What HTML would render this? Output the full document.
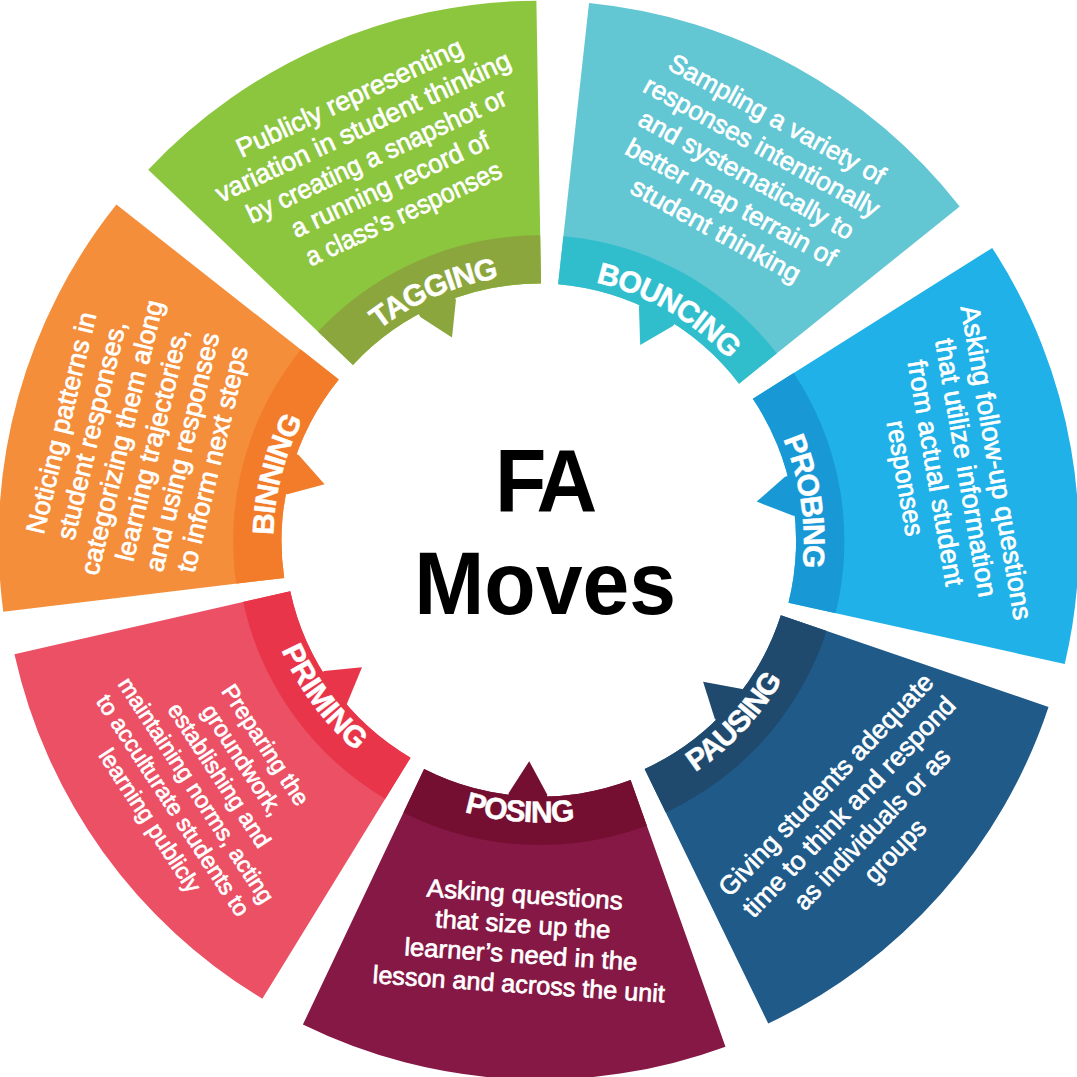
<!DOCTYPE html>
<html><head><meta charset="utf-8"><style>
html,body{margin:0;padding:0;background:#fff;}
svg{display:block;}
.d text{font-family:"Liberation Sans",sans-serif;fill:#fff;text-anchor:middle;font-weight:400;stroke:#fff;stroke-width:0.7px;}
.l{font-family:"Liberation Sans",sans-serif;fill:#fff;text-anchor:middle;font-weight:700;stroke:#fff;stroke-width:0.5px;}
.big{font-family:"Liberation Sans",sans-serif;font-weight:700;text-anchor:middle;fill:#000;}
</style></head><body>
<svg width="1077" height="1077" viewBox="0 0 1077 1077">
<defs><clipPath id="c0"><path d="M148.25,169.63 A538.28,538.28 0 0 1 536.40,0.68 L541.00,283.58 A255.37,255.37 0 0 0 352.94,364.94 Z"/></clipPath><path id="lp0" d="M282.93,599.68 A264,264 0 0 1 760.50,394.01"/><clipPath id="c1"><path d="M589.02,3.01 A538.28,538.28 0 0 1 959.71,206.54 L739.03,383.63 A255.37,255.37 0 0 0 558.12,284.26 Z"/></clipPath><path id="lp1" d="M334.65,369.63 A263,263 0 0 1 783.26,628.63"/><clipPath id="c2"><path d="M992.22,247.89 A538.28,538.28 0 0 1 1064.75,663.94 L788.48,602.79 A255.37,255.37 0 0 0 752.84,398.77 Z"/></clipPath><path id="lp2" d="M547.14,278.03 A263,263 0 0 1 624.60,790.21"/><clipPath id="c3"><path d="M1048.53,706.98 A538.28,538.28 0 0 1 768.23,1023.53 L644.64,769.02 A255.37,255.37 0 0 0 780.84,615.35 Z"/></clipPath><path id="lp3" d="M382.39,773.62 A283,283 0 0 0 764.66,367.96"/><clipPath id="c4"><path d="M725.47,1046.66 A538.28,538.28 0 0 1 302.89,1024.62 L424.13,768.95 A255.37,255.37 0 0 0 630.60,780.10 Z"/></clipPath><path id="lp4" d="M260.33,569.02 A281,281 0 0 0 812.19,611.00"/><clipPath id="c5"><path d="M262.35,998.72 A538.28,538.28 0 0 1 14.45,654.21 L290.27,591.21 A255.37,255.37 0 0 0 410.54,757.70 Z"/></clipPath><path id="lp5" d="M335.75,343.02 A282,282 0 0 0 665.27,790.14"/><clipPath id="c6"><path d="M3.28,611.84 A538.28,538.28 0 0 1 116.40,204.62 L338.82,379.49 A255.37,255.37 0 0 0 284.20,577.96 Z"/></clipPath><path id="lp6" d="M428.83,781.08 A263.5,263.5 0 0 1 556.14,277.95"/></defs>
<path d="M148.25,169.63 A538.28,538.28 0 0 1 536.40,0.68 L541.00,283.58 A255.37,255.37 0 0 0 352.94,364.94 Z" fill="#8CC63F"/>
<circle cx="539.85" cy="538.95" r="303.67" fill="#8BA63C" clip-path="url(#c0)"/>
<polygon points="420.33,316.91 452.00,337.60 455.91,300.01 453.22,292.36 415.96,308.80" fill="#8BA63C"/>
<path d="M589.02,3.01 A538.28,538.28 0 0 1 959.71,206.54 L739.03,383.63 A255.37,255.37 0 0 0 558.12,284.26 Z" fill="#62C6D3"/>
<circle cx="536.12" cy="538.68" r="303.67" fill="#30BECD" clip-path="url(#c1)"/>
<polygon points="638.93,306.60 640.20,344.90 673.33,325.70 677.67,318.96 641.99,299.71" fill="#30BECD"/>
<path d="M992.22,247.89 A538.28,538.28 0 0 1 1064.75,663.94 L788.48,602.79 A255.37,255.37 0 0 0 752.84,398.77 Z" fill="#1FB1E7"/>
<circle cx="540.71" cy="540.95" r="303.67" fill="#1998D6" clip-path="url(#c2)"/>
<polygon points="785.00,476.78 756.70,501.60 793.17,515.72 800.78,514.96 793.50,474.55" fill="#1998D6"/>
<path d="M1048.53,706.98 A538.28,538.28 0 0 1 768.23,1023.53 L644.64,769.02 A255.37,255.37 0 0 0 780.84,615.35 Z" fill="#1F5A89"/>
<circle cx="537.76" cy="537.09" r="303.67" fill="#1F4A6E" clip-path="url(#c3)"/>
<polygon points="742.17,689.07 703.10,681.70 714.80,718.81 720.15,724.30 747.51,693.04" fill="#1F4A6E"/>
<path d="M725.47,1046.66 A538.28,538.28 0 0 1 302.89,1024.62 L424.13,768.95 A255.37,255.37 0 0 0 630.60,780.10 Z" fill="#851845"/>
<circle cx="539.96" cy="541.36" r="303.67" fill="#740F31" clip-path="url(#c4)"/>
<polygon points="547.05,794.36 529.20,761.20 508.71,792.88 507.74,800.74 547.28,802.63" fill="#740F31"/>
<path d="M262.35,998.72 A538.28,538.28 0 0 1 14.45,654.21 L290.27,591.21 A255.37,255.37 0 0 0 410.54,757.70 Z" fill="#EB5064"/>
<circle cx="539.93" cy="537.53" r="303.67" fill="#E8354A" clip-path="url(#c5)"/>
<polygon points="347.14,703.25 362.00,667.30 324.21,671.10 317.71,675.13 341.72,707.90" fill="#E8354A"/>
<path d="M3.28,611.84 A538.28,538.28 0 0 1 116.40,204.62 L338.82,379.49 A255.37,255.37 0 0 0 284.20,577.96 Z" fill="#F48E3B"/>
<circle cx="536.84" cy="540.74" r="303.67" fill="#F27C2A" clip-path="url(#c6)"/>
<polygon points="287.47,494.33 324.60,484.20 298.67,454.90 290.95,452.12 279.88,492.91" fill="#F27C2A"/>
<text class="l" font-size="30" letter-spacing="-1.0"><textPath href="#lp0" startOffset="50%">TAGGING</textPath></text>
<g transform="translate(377.35,157.5) rotate(-25)" font-size="26.6" letter-spacing="0" class="d"><text x="0" y="-56.88">Publicly representing</text><text x="0" y="-24.98">variation in student thinking</text><text transform="translate(0,6.92) scale(0.95,1)">by creating a snapshot or</text><text transform="translate(0,38.82) scale(0.965,1)">a running record of</text><text transform="translate(0,70.72) scale(0.92,1)">a class’s responses</text></g>
<text class="l" font-size="30" letter-spacing="-1.0"><textPath href="#lp1" startOffset="50%">BOUNCING</textPath></text>
<g transform="translate(745.5,176.5) rotate(28.8)" font-size="26" letter-spacing="0" class="d"><text x="0" y="-56.64">Sampling a variety of</text><text x="0" y="-24.94">responses intentionally</text><text x="0" y="6.76">and systematically to</text><text transform="translate(0,38.46) scale(1.01,1)">better map terrain of</text><text transform="translate(0,70.16) scale(1.04,1)">student thinking</text></g>
<text class="l" font-size="30" letter-spacing="-1.4"><textPath href="#lp2" startOffset="50%">PROBING</textPath></text>
<g transform="translate(948.8,470.7) rotate(80.3)" font-size="26.9" letter-spacing="0" class="d"><text x="0" y="-39.21">Asking follow-up questions</text><text x="0" y="-8.41">that utilize information</text><text x="0" y="22.39">from actual student</text><text transform="translate(0,53.19) scale(0.94,1)">responses</text></g>
<text class="l" font-size="30" letter-spacing="-1.0"><textPath href="#lp3" startOffset="50%">PAUSING</textPath></text>
<g transform="translate(861.9,819.2) rotate(-46.2)" font-size="26.2" letter-spacing="0" class="d"><text x="0" y="-40.89">Giving students adequate</text><text x="0" y="-9.09">time to think and respond</text><text transform="translate(0,22.71) scale(0.955,1)">as individuals or as</text><text transform="translate(0,54.51) scale(0.96,1)">groups</text></g>
<text class="l" font-size="30" letter-spacing="-1.0"><textPath href="#lp4" startOffset="50%">POSING</textPath></text>
<g transform="translate(521.7,941.4) rotate(3.8)" font-size="25.2" letter-spacing="0" class="d"><text transform="translate(0,-38.37) scale(1.03,1)">Asking questions</text><text transform="translate(0,-8.42) scale(1.027,1)">that size up the</text><text transform="translate(0,21.53) scale(1.02,1)">learner’s need in the</text><text x="0" y="51.48">lesson and across the unit</text></g>
<text class="l" font-size="30" letter-spacing="-0.2"><textPath href="#lp5" startOffset="50%">PRIMING</textPath></text>
<g transform="translate(206.2,783.8) rotate(56.8)" font-size="23.2" letter-spacing="0" class="d"><text x="0" y="-62.97">Preparing the</text><text x="0" y="-35.37">groundwork,</text><text x="0" y="-7.77">establishing and</text><text x="0" y="19.83">maintaining norms, acting</text><text x="0" y="47.43">to acculturate students to</text><text x="0" y="75.03">learning publicly</text></g>
<text class="l" font-size="30" letter-spacing="-1.0"><textPath href="#lp6" startOffset="50%">BINNING</textPath></text>
<g transform="translate(138.9,441.6) rotate(-76.5)" font-size="26.5" letter-spacing="0" class="d"><text x="0" y="-70.86">Noticing patterns in</text><text x="0" y="-39.76">student responses,</text><text x="0" y="-8.66">categorizing them along</text><text x="0" y="22.44">learning trajectories,</text><text x="0" y="53.54">and using responses</text><text x="0" y="84.64">to inform next steps</text></g>
<text transform="translate(543.6,512.3) scale(0.945,1)" class="big" font-size="89" letter-spacing="-5.5">FA</text><text transform="translate(545.1,614) scale(0.945,1)" class="big" font-size="89">Moves</text>
</svg></body></html>
